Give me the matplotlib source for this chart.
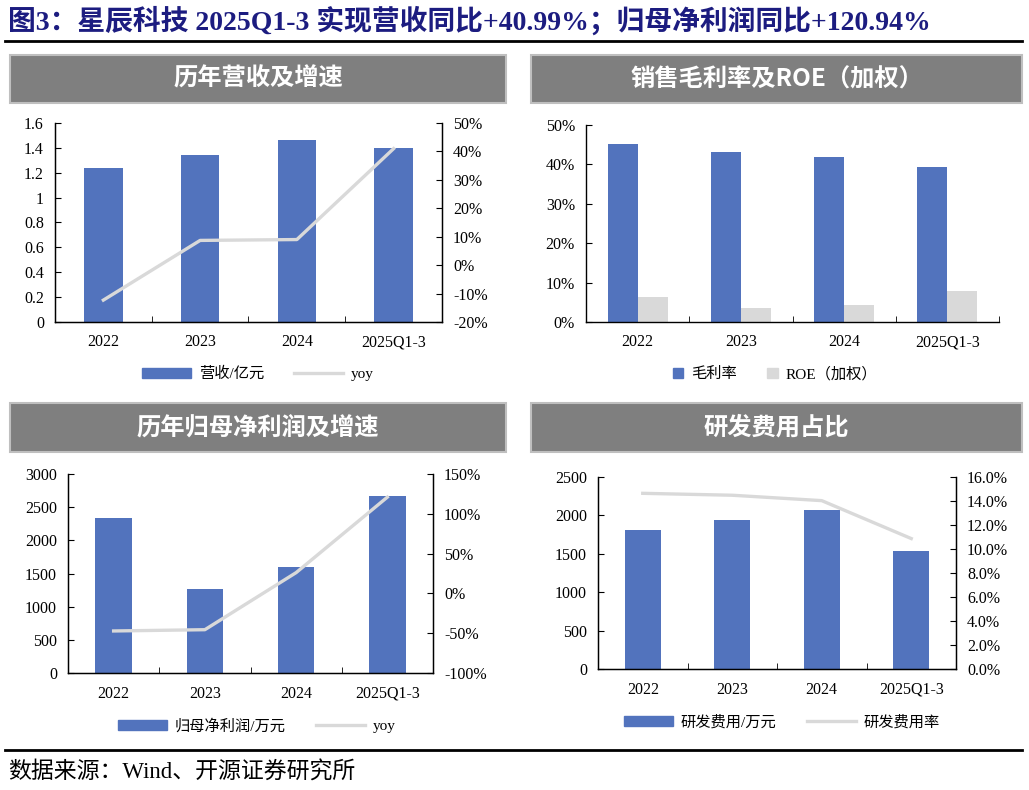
import matplotlib
matplotlib.use("Agg")
import matplotlib.pyplot as plt
import numpy as np
from matplotlib.patches import Rectangle
from matplotlib.lines import Line2D

plt.rcParams['font.family'] = ['Liberation Serif', 'Noto Sans CJK SC']
plt.rcParams['axes.unicode_minus'] = False

# data
years = ["2022", "2023", "2024", "2025Q1-3"]
revenue = [1.24, 1.34, 1.46, 1.40]            # 亿元
revenue_yoy = [-12.3, 8.7, 9.0, 40.99]        # %
gross_margin = [45.3, 43.1, 41.9, 39.4]       # %
roe = [6.3, 3.5, 4.4, 7.8]                    # %
net_profit = [2337, 1271, 1603, 2673]         # 万元
profit_yoy = [-47.2, -45.6, 26.1, 120.94]     # %
rd_cost = [1816, 1946, 2071, 1530]            # 万元
rd_rate = [14.64, 14.48, 14.03, 10.87]        # %

BLUE = "#5273BD"
GREY = "#D9D9D9"
HEAD = "#7F7F7F"
W, H = 1029, 790
TICK_FS = 11.5

fig = plt.figure(figsize=(W / 100, H / 100), dpi=100)


def px_axes(x0, y0, x1, y1):
    return fig.add_axes([x0 / W, 1 - y1 / H, (x1 - x0) / W, (y1 - y0) / H])


def header(x0, y0, x1, y1, text):
    fig.patches.append(Rectangle((x0 / W, 1 - y1 / H), (x1 - x0) / W, (y1 - y0) / H,
                                 transform=fig.transFigure, facecolor=HEAD,
                                 edgecolor="#BFBFBF", linewidth=1.5))
    fig.text((x0 + x1) / 2 / W, 1 - (y0 + y1) / 2 / H, text, color="white",
             fontsize=17.5, fontweight="bold", ha="center", va="center",
             family=["Noto Sans CJK SC", "DejaVu Sans"])


def style_ax(ax, right=False):
    ax.spines["top"].set_visible(False)
    ax.spines["right"].set_visible(right)
    for s in ax.spines.values():
        s.set_linewidth(1.0)
    ax.set_xlim(-0.5, 3.5)
    ax.set_xticks(range(4))
    ax.set_xticklabels(years, fontsize=TICK_FS)
    ax.set_xticks(np.arange(-0.5, 4, 1), minor=True)
    ax.tick_params(axis="x", which="major", length=0, pad=9)
    ax.tick_params(axis="x", which="minor", direction="in", length=4)
    ax.tick_params(axis="y", direction="in", length=4, labelsize=TICK_FS, pad=8)


def style_twin(ax):
    ax.spines["top"].set_visible(False)
    ax.tick_params(axis="y", direction="in", length=4, labelsize=TICK_FS, pad=8)


def add_legend(handles, labels, cx, cy, **kw):
    fig.legend(handles, labels, loc="center", bbox_to_anchor=(cx / W, 1 - cy / H),
               bbox_transform=fig.transFigure, ncol=2, frameon=False,
               fontsize=11, columnspacing=2.0, handletextpad=0.5, **kw)


x = np.arange(4)

# title
fig.text(8 / W, 1 - 21 / H, "图3：星辰科技 2025Q1-3 实现营收同比+40.99%；归母净利润同比+120.94%",
         fontsize=20, fontweight="bold", color="#1C1C80", va="center", ha="left")
fig.add_artist(Line2D([5 / W, 1022 / W], [1 - 41 / H, 1 - 41 / H], color="black", lw=2))

# panel 1: revenue
header(10, 55, 506, 103, "历年营收及增速")
ax1 = px_axes(55, 123, 442, 322)
ax1.bar(x, revenue, width=0.4, color=BLUE)
ax1.set_ylim(0, 1.6)
ax1.set_yticks(np.arange(0, 1.61, 0.2))
ax1.set_yticklabels(["0", "0.2", "0.4", "0.6", "0.8", "1", "1.2", "1.4", "1.6"])
style_ax(ax1, right=True)
ax1b = ax1.twinx()
ax1b.plot(x, revenue_yoy, color=GREY, lw=2.4)
ax1b.set_ylim(-20, 50)
ax1b.set_yticks(range(-20, 51, 10))
ax1b.set_yticklabels([f"{v}%" for v in range(-20, 51, 10)])
style_twin(ax1b)
add_legend([Rectangle((0, 0), 1, 1, color=BLUE), Line2D([], [], color=GREY, lw=2.4)],
           ["营收/亿元", "yoy"], 258, 374, handlelength=3.2, handleheight=0.6)

# panel 2: gross margin & ROE
header(531, 55, 1022, 103, "销售毛利率及ROE（加权）")
ax2 = px_axes(586, 125, 999, 322)
bw = 0.29
ax2.bar(x - bw / 2, gross_margin, width=bw, color=BLUE)
ax2.bar(x + bw / 2, roe, width=bw, color=GREY)
ax2.set_ylim(0, 50)
ax2.set_yticks(range(0, 51, 10))
ax2.set_yticklabels([f"{v}%" for v in range(0, 51, 10)])
style_ax(ax2)
add_legend([Rectangle((0, 0), 1, 1, color=BLUE), Rectangle((0, 0), 1, 1, color=GREY)],
           ["毛利率", "ROE（加权）"], 775, 374, handlelength=0.7, handleheight=0.7)

# panel 3: net profit
header(10, 403, 506, 452, "历年归母净利润及增速")
ax3 = px_axes(68, 474, 433, 673)
ax3.bar(x, net_profit, width=0.4, color=BLUE)
ax3.set_ylim(0, 3000)
ax3.set_yticks(range(0, 3001, 500))
style_ax(ax3, right=True)
ax3b = ax3.twinx()
ax3b.plot(x, profit_yoy, color=GREY, lw=2.4)
ax3b.set_ylim(-100, 150)
ax3b.set_yticks(range(-100, 151, 50))
ax3b.set_yticklabels([f"{v}%" for v in range(-100, 151, 50)])
style_twin(ax3b)
add_legend([Rectangle((0, 0), 1, 1, color=BLUE), Line2D([], [], color=GREY, lw=2.4)],
           ["归母净利润/万元", "yoy"], 257, 726, handlelength=3.2, handleheight=0.6)

# panel 4: R&D
header(531, 403, 1022, 452, "研发费用占比")
ax4 = px_axes(598, 477, 956, 669)
ax4.bar(x, rd_cost, width=0.4, color=BLUE)
ax4.set_ylim(0, 2500)
ax4.set_yticks(range(0, 2501, 500))
style_ax(ax4, right=True)
ax4b = ax4.twinx()
ax4b.plot(x, rd_rate, color=GREY, lw=2.4)
ax4b.set_ylim(0, 16)
ax4b.set_yticks(range(0, 17, 2))
ax4b.set_yticklabels([f"{v:.1f}%" for v in range(0, 17, 2)])
style_twin(ax4b)
add_legend([Rectangle((0, 0), 1, 1, color=BLUE), Line2D([], [], color=GREY, lw=2.4)],
           ["研发费用/万元", "研发费用率"], 782, 722, handlelength=3.2, handleheight=0.6)

# footer
fig.add_artist(Line2D([5 / W, 1022 / W], [1 - 750 / H, 1 - 750 / H], color="black", lw=2))
fig.text(8 / W, 1 - 773 / H, "数据来源：Wind、开源证券研究所", fontsize=16.5, va="center", ha="left")

fig.savefig("out.png", dpi=100)
